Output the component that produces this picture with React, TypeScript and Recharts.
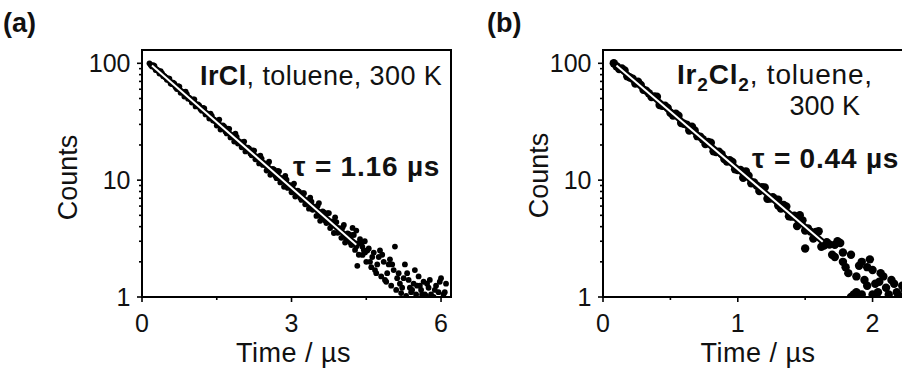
import React from "react";
import { ComposedChart, Scatter, XAxis, YAxis, ReferenceArea } from "recharts";

const FONT = '"Liberation Sans", Arial, Helvetica, sans-serif';
const INK = "#111";

// y axis (log), shared by both panels
const yTicks = [1, 2, 3, 4, 5, 6, 7, 8, 9, 10, 20, 30, 40, 50, 60, 70, 80, 90, 100];
const yMajor = [1, 10, 100];
const yDomain: [number, number] = [1, 130];

// x axes
const xTicksA = [0, 1.5, 3, 4.5, 6];
const xMajorA = [0, 3, 6];
const xDomainA: [number, number] = [0, 6.2];
const xTicksB = [0, 0.5, 1, 1.5, 2];
const xMajorB = [0, 1, 2];
const xDomainB: [number, number] = [0, 2.3];

// (a) IrCl decay, [time µs, counts]
const decayA: [number, number][] = [
  [0.15, 100], [0.2, 94.1], [0.25, 95.0], [0.3, 87.3], [0.35, 81.7], [0.4, 82.5], [0.45, 77.7],
  [0.5, 72.2], [0.55, 73.8], [0.6, 66.4], [0.65, 67.0], [0.7, 60.3], [0.75, 63.2], [0.8, 56.5],
  [0.85, 52.0], [0.9, 54.5], [0.95, 50.7], [1.0, 46.2], [1.05, 49.2], [1.1, 43.2], [1.15, 43.5],
  [1.2, 39.3], [1.25, 41.1], [1.3, 36.7], [1.35, 33.7], [1.4, 35.5], [1.45, 32.9], [1.5, 29.3],
  [1.55, 33.0], [1.6, 27.8], [1.65, 28.7], [1.7, 25.1], [1.75, 27.5], [1.8, 23.7], [1.85, 21.4],
  [1.9, 23.4], [1.95, 21.5], [2.0, 19.1], [2.05, 21.4], [2.1, 18.0], [2.15, 18.6], [2.2, 16.3],
  [2.25, 17.9], [2.3, 15.5], [2.35, 13.9], [2.4, 15.3], [2.45, 14.0], [2.5, 12.1], [2.55, 14.4],
  [2.6, 11.6], [2.65, 12.3], [2.7, 10.4], [2.75, 11.9], [2.8, 10.0], [2.85, 8.77], [2.9, 10.1],
  [2.95, 9.12], [3.0, 7.88], [3.05, 9.35], [3.1, 7.54], [3.15, 7.97], [3.2, 6.77], [3.25, 7.73],
  [3.3, 6.48], [3.35, 5.7], [3.4, 6.54], [3.45, 5.93], [3.5, 4.94], [3.55, 6.37], [3.6, 4.81],
  [3.65, 5.3], [3.7, 4.29], [3.75, 5.23], [3.8, 4.17], [3.85, 3.53], [3.9, 4.38], [3.95, 3.88],
  [4.0, 3.21], [4.05, 4.14], [4.1, 3.12], [4.15, 3.45], [4.2, 2.78], [4.25, 3.4], [4.3, 2.71],
  [4.35, 2.3], [4.4, 2.85], [4.45, 2.52],
  [0.175, 96.7], [0.225, 96.6], [0.275, 87.6], [0.325, 86.9], [0.375, 85.9], [0.425, 77.5],
  [0.475, 75.6], [0.525, 74.1], [0.575, 67.2], [0.625, 68.4], [0.675, 62.3], [0.725, 63.9],
  [0.775, 56.0], [0.825, 57.0], [0.875, 57.2], [0.925, 49.8], [0.975, 49.1], [1.025, 49.0],
  [1.075, 42.8], [1.125, 44.5], [1.175, 40.5], [1.225, 41.6], [1.275, 36.5], [1.325, 37.0],
  [1.375, 37.1], [1.425, 32.4], [1.475, 31.9], [1.525, 32.3], [1.575, 27.1], [1.625, 29.4],
  [1.675, 26.1], [1.725, 27.6], [1.775, 23.2], [1.825, 24.3], [1.875, 25.0], [1.925, 20.6],
  [1.975, 20.7], [2.025, 21.1], [2.075, 17.6], [2.125, 19.0], [2.175, 16.9], [2.225, 18.0],
  [2.275, 15.1], [2.325, 15.9], [2.375, 16.2], [2.425, 13.5], [2.475, 13.5], [2.525, 13.9],
  [2.575, 11.1], [2.625, 12.5], [2.675, 10.9], [2.725, 12.0], [2.775, 9.57], [2.825, 10.4],
  [2.875, 10.9], [2.925, 8.58], [2.975, 8.75], [3.025, 9.05], [3.075, 7.23], [3.125, 8.14],
  [3.175, 7.07], [3.225, 7.76], [3.275, 6.21], [3.325, 6.73], [3.375, 7.07], [3.425, 5.57],
  [3.475, 5.69], [3.525, 6.05], [3.575, 4.49], [3.625, 5.41], [3.675, 4.52], [3.725, 5.22],
  [3.775, 3.89], [3.825, 4.44], [3.875, 4.81], [3.925, 3.54], [3.975, 3.69], [4.025, 3.93],
  [4.075, 2.92], [4.125, 3.51], [4.175, 2.94], [4.225, 3.4], [4.275, 2.53], [4.325, 2.88],
  [4.375, 3.12], [4.425, 2.29], [4.475, 2.4],
  [4.225, 3.9], [4.3, 3.7], [4.32, 1.85], [4.42, 2.7], [4.47, 3.0], [4.52, 2.5], [4.62, 2.2],
  [4.72, 1.9], [4.82, 2.3], [4.92, 1.6], [5.02, 1.9], [5.12, 1.45], [5.22, 1.2], [5.32, 1.6],
  [5.42, 1.15], [5.52, 1.25], [5.62, 1.05], [5.72, 1.3],
  [4.5, 2.0], [4.55, 2.6], [4.6, 1.8], [4.65, 2.4], [4.7, 1.6], [4.75, 2.2], [4.8, 1.5],
  [4.85, 2.0], [4.9, 1.35], [4.95, 1.9], [5.0, 1.25], [5.05, 1.7], [5.1, 1.15], [5.15, 1.6],
  [5.2, 1.08], [5.25, 1.45], [5.3, 1.02], [5.35, 1.4], [5.4, 1.1], [5.45, 1.3], [5.5, 1.05],
  [5.55, 1.5], [5.6, 1.15], [5.65, 1.35], [5.7, 1.02], [5.75, 1.2], [5.8, 1.05], [5.85, 1.0],
  [5.9, 1.25], [5.95, 1.1], [6.0, 1.45], [6.05, 1.05], [6.1, 1.3],
  [4.575, 2.0], [4.675, 1.7], [4.775, 2.5], [4.875, 1.4], [4.975, 2.1], [5.075, 2.7],
  [5.175, 1.3], [5.275, 1.9], [5.375, 1.2], [5.475, 1.7], [5.575, 1.25], [5.675, 1.05],
  [5.775, 1.4], [5.875, 1.15], [5.975, 1.35], [6.075, 1.1],
];

// (b) Ir2Cl2 decay
const decayB: [number, number][] = [
  [0.08, 100], [0.12, 89.4], [0.16, 86.9], [0.2, 75.6], [0.24, 67.1], [0.28, 65.3], [0.32, 58.4],
  [0.36, 51.4], [0.4, 51.7], [0.44, 43.2], [0.48, 41.5], [0.52, 35.7], [0.56, 35.6], [0.6, 30.4],
  [0.64, 26.6], [0.68, 26.6], [0.72, 23.6], [0.76, 20.4], [0.8, 20.9], [0.84, 17.4], [0.88, 16.7],
  [0.92, 14.4], [0.96, 14.3], [1.0, 12.2], [1.04, 10.5], [1.08, 10.9], [1.12, 9.55], [1.16, 8.08],
  [1.2, 8.67], [1.24, 6.95], [1.28, 6.83], [1.32, 5.71], [1.36, 5.95], [1.4, 4.87], [1.44, 4.05],
  [1.48, 4.53], [1.52, 3.87], [1.56, 3.16], [1.6, 3.65], [1.64, 2.76], [1.68, 2.81],
  [0.1, 94.3], [0.14, 90.3], [0.18, 77.5], [0.22, 73.7], [0.26, 69.7], [0.3, 59.4], [0.34, 55.4],
  [0.38, 52.0], [0.42, 43.9], [0.46, 43.4], [0.5, 37.7], [0.54, 37.0], [0.58, 30.8], [0.62, 29.9],
  [0.66, 28.7], [0.7, 23.8], [0.74, 22.4], [0.78, 21.2], [0.82, 17.7], [0.86, 17.5], [0.9, 15.2],
  [0.94, 14.8], [0.98, 12.4], [1.02, 12.2], [1.06, 11.9], [1.1, 9.4], [1.14, 8.99], [1.18, 8.71],
  [1.22, 6.94], [1.26, 7.16], [1.3, 6.06], [1.34, 6.14], [1.38, 4.91], [1.42, 4.97], [1.46, 5.02],
  [1.5, 3.71], [1.54, 3.63], [1.58, 3.6], [1.62, 2.69], [1.66, 2.94],
  [1.72, 2.2], [1.76, 2.9], [1.8, 1.8], [1.84, 2.3], [1.88, 1.5], [1.92, 2.0], [1.96, 1.25],
  [2.0, 1.7], [2.04, 1.1], [2.08, 1.5], [2.12, 1.05], [2.16, 1.3], [2.2, 1.02], [2.24, 1.15],
  [1.7, 2.3], [1.74, 3.0], [1.78, 2.0], [1.82, 1.6], [1.86, 1.05], [1.9, 1.85], [1.94, 1.4],
  [1.98, 2.1], [2.02, 1.3], [2.06, 1.6], [2.1, 1.2], [2.14, 1.4], [2.18, 1.1], [2.22, 1.25],
  [1.84, 1.0], [1.88, 1.1], [1.92, 1.05], [1.96, 1.8], [2.0, 1.05], [2.05, 1.35],
  [1.78, 2.4], [1.72, 2.8], [1.5, 2.6], [1.3, 6.8],
];

// single-exponential fits, endpoints
const fitA: [number, number][] = [[0.2, 96], [4.3, 2.8]];
const fitB: [number, number][] = [[0.1, 96], [1.63, 2.97]];

const toRows = (pts: [number, number][]) => pts.map(([t, c]) => ({ t, c }));
const noMarker = () => <g />;

const yTick = (p: any) => {
  const v = p.payload.value;
  const major = yMajor.includes(v);
  return (
    <g>
      <line x1={p.x - (major ? 5 : 3)} x2={p.x} y1={p.y} y2={p.y} stroke="#000" strokeWidth={1.6} />
      {major && (
        <text x={p.x - 11.5} y={p.y} dy="0.36em" textAnchor="end" fontSize={25} fontFamily={FONT} fill={INK}>
          {v}
        </text>
      )}
    </g>
  );
};

const makeXTick = (majors: number[]) => (p: any) => {
  const v = p.payload.value;
  const major = majors.includes(v);
  return (
    <g>
      <line x1={p.x} x2={p.x} y1={p.y} y2={p.y + (major ? 5 : 3)} stroke="#000" strokeWidth={1.6} />
      {major && (
        <text x={p.x} y={p.y + 34.5} textAnchor="middle" fontSize={25} fontFamily={FONT} fill={INK}>
          {v}
        </text>
      )}
    </g>
  );
};

type PanelProps = {
  left: number;
  axisWidth: number;
  plotWidth: number;
  xDomain: [number, number];
  xTicks: number[];
  xMajor: number[];
  points: [number, number][];
  fit: [number, number][];
  r: number;
  xLabelDx: number;
  yLabelDy: number;
};

function Panel(props: PanelProps) {
  const { left, axisWidth, plotWidth, xDomain, xTicks, xMajor, points, fit, r, xLabelDx, yLabelDy } = props;
  const fitRows = toRows(fit);
  return (
    <div style={{ position: "absolute", left, top: 0 }}>
      <ComposedChart
        width={axisWidth + plotWidth + 10}
        height={372}
        margin={{ top: 50, right: 10, bottom: 0, left: 0 }}
      >
        <XAxis
          type="number"
          dataKey="t"
          domain={xDomain}
          allowDataOverflow
          ticks={xTicks}
          interval={0}
          tickSize={0}
          tickMargin={0}
          tickLine={false}
          tick={makeXTick(xMajor)}
          axisLine={{ stroke: "#000", strokeWidth: 2 }}
          height={75}
          label={{
            value: "Time / µs",
            position: "insideBottom",
            offset: 10,
            dx: xLabelDx,
            fontSize: 27,
            letterSpacing: 0.5,
            fontFamily: FONT,
            fill: INK,
          }}
        />
        <YAxis
          type="number"
          scale="log"
          domain={yDomain}
          allowDataOverflow
          ticks={yTicks}
          interval={0}
          tickSize={0}
          tickMargin={0}
          tickLine={false}
          tick={yTick}
          axisLine={{ stroke: "#000", strokeWidth: 2 }}
          width={axisWidth}
          label={{
            value: "Counts",
            angle: -90,
            position: "center",
            dy: yLabelDy,
            fontSize: 27,
            fontFamily: FONT,
            fill: INK,
          }}
        />
        <Scatter
          data={toRows(points)}
          dataKey="c"
          isAnimationActive={false}
          shape={(s: any) => <circle cx={s.cx} cy={s.cy} r={r} fill="#000" />}
        />
        <Scatter
          data={fitRows}
          dataKey="c"
          isAnimationActive={false}
          line={{ stroke: "#000", strokeWidth: 6 }}
          shape={noMarker}
        />
        <Scatter
          data={fitRows}
          dataKey="c"
          isAnimationActive={false}
          line={{ stroke: "#fff", strokeWidth: 2 }}
          shape={noMarker}
        />
        <ReferenceArea
          x1={xDomain[0]}
          x2={xDomain[1]}
          y1={yDomain[0]}
          y2={yDomain[1]}
          fill="none"
          stroke="#000"
          strokeWidth={2}
        />
      </ComposedChart>
    </div>
  );
}

export default function App() {
  return (
    <div
      style={{
        position: "fixed",
        left: 0,
        top: 0,
        width: 902,
        height: 372,
        overflow: "hidden",
        background: "#fff",
        fontFamily: FONT,
      }}
    >
      <Panel
        left={-7}
        axisWidth={149}
        plotWidth={309}
        xDomain={xDomainA}
        xTicks={xTicksA}
        xMajor={xMajorA}
        points={decayA}
        fit={fitA}
        r={2.9}
        xLabelDx={-3}
        yLabelDy={4}
      />
      <Panel
        left={473}
        axisWidth={130}
        plotWidth={310}
        xDomain={xDomainB}
        xTicks={xTicksB}
        xMajor={xMajorB}
        points={decayB}
        fit={fitB}
        r={4.2}
        xLabelDx={0}
        yLabelDy={2}
      />
      <svg
        width={902}
        height={372}
        style={{ position: "absolute", left: 0, top: 0, pointerEvents: "none" }}
        fontFamily={FONT}
        fill={INK}
      >
        <text x={3} y={32} fontSize={27} fontWeight="bold">(a)</text>
        <text x={487} y={32} fontSize={27} fontWeight="bold">(b)</text>

        <text x={200} y={85} fontSize={27} letterSpacing={0.4}>
          <tspan fontWeight="bold">IrCl</tspan>
          <tspan>, toluene, 300 K</tspan>
        </text>
        <text x={293} y={176} fontSize={28} fontWeight="bold" letterSpacing={0.8}>τ = 1.16 µs</text>

        <text x={677} y={84} fontSize={28} letterSpacing={0.8}>
          <tspan fontWeight="bold">Ir</tspan>
          <tspan fontWeight="bold" fontSize={19} dy={7}>2</tspan>
          <tspan fontWeight="bold" dy={-7}>Cl</tspan>
          <tspan fontWeight="bold" fontSize={19} dy={7}>2</tspan>
          <tspan dy={-7}>, toluene,</tspan>
        </text>
        <text x={860} y={115} fontSize={27} textAnchor="end">300 K</text>
        <text x={752} y={168} fontSize={28} fontWeight="bold" letterSpacing={0.8}>τ = 0.44 µs</text>
      </svg>
    </div>
  );
}
